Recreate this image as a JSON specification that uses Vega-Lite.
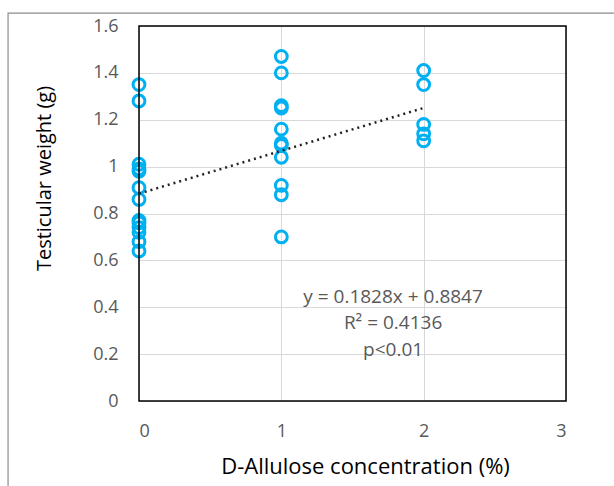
{
  "$schema": "https://vega.github.io/schema/vega-lite/v6.json",
  "width": 427,
  "height": 375,
  "autosize": {"type": "none"},
  "padding": {"left": 139, "top": 26, "right": 48, "bottom": 85},
  "background": "white",
  "config": {
    "font": "Open Sans",
    "view": {"stroke": null},
    "axis": {
      "gridColor": "#d9d9d9",
      "gridWidth": 1,
      "domain": false,
      "ticks": false,
      "labelColor": "#595959",
      "labelFontSize": 18,
      "labelFont": "Open Sans",
      "titleColor": "#000000",
      "titleFont": "Open Sans",
      "titleFontWeight": "normal"
    }
  },
  "datasets": {
    "pts": [
      {"c": 0, "w": 1.35}, {"c": 0, "w": 1.28}, {"c": 0, "w": 1.01}, {"c": 0, "w": 0.99},
      {"c": 0, "w": 0.98}, {"c": 0, "w": 0.91}, {"c": 0, "w": 0.86}, {"c": 0, "w": 0.77},
      {"c": 0, "w": 0.76}, {"c": 0, "w": 0.74}, {"c": 0, "w": 0.72}, {"c": 0, "w": 0.68},
      {"c": 0, "w": 0.64},
      {"c": 1, "w": 1.47}, {"c": 1, "w": 1.40}, {"c": 1, "w": 1.26}, {"c": 1, "w": 1.25},
      {"c": 1, "w": 1.16}, {"c": 1, "w": 1.10}, {"c": 1, "w": 1.09}, {"c": 1, "w": 1.04},
      {"c": 1, "w": 0.92}, {"c": 1, "w": 0.88}, {"c": 1, "w": 0.70},
      {"c": 2, "w": 1.41}, {"c": 2, "w": 1.35}, {"c": 2, "w": 1.18}, {"c": 2, "w": 1.14},
      {"c": 2, "w": 1.11}
    ],
    "trend": [
      {"c": 0, "w": 0.8847},
      {"c": 2, "w": 1.2503}
    ],
    "notes": [
      {"c": 1.785, "w": 0.444, "t": "y = 0.1828x + 0.8847"},
      {"c": 1.785, "w": 0.333, "t": "R² = 0.4136"},
      {"c": 1.785, "w": 0.218, "t": "p<0.01"}
    ],
    "one": [{"k": 1}]
  },
  "layer": [
    {
      "data": {"name": "pts"},
      "mark": {"type": "point", "shape": "circle", "filled": false, "stroke": "#00B0F0", "strokeWidth": 3, "size": 140, "opacity": 1},
      "encoding": {
        "x": {
          "field": "c", "type": "quantitative",
          "scale": {"domain": [0, 3], "nice": false},
          "axis": {"values": [0, 1, 2, 3], "format": "~f", "title": "D-Allulose concentration (%)", "titleFontSize": 22, "labelPadding": 21, "titlePadding": 16, "titleX": 226}
        },
        "y": {
          "field": "w", "type": "quantitative",
          "scale": {"domain": [0, 1.6], "nice": false},
          "axis": {"values": [0, 0.2, 0.4, 0.6, 0.8, 1, 1.2, 1.4, 1.6], "format": "~f", "title": "Testicular weight (g)", "titleFontSize": 20, "labelPadding": 21, "titlePadding": 38, "titleY": 152}
        }
      }
    },
    {
      "data": {"name": "one"},
      "mark": {"type": "rect", "filled": false, "stroke": "#000000", "strokeWidth": 1.5},
      "encoding": {
        "x": {"datum": 0, "type": "quantitative"},
        "x2": {"datum": 3},
        "y": {"datum": 0, "type": "quantitative"},
        "y2": {"datum": 1.6}
      }
    },
    {
      "data": {"name": "one"},
      "mark": {"type": "rect", "filled": false, "stroke": "#8c8c8c", "strokeWidth": 1.2, "clip": false},
      "encoding": {
        "x": {"datum": -0.92, "type": "quantitative"},
        "x2": {"datum": 3.6},
        "y": {"datum": 1.655, "type": "quantitative"},
        "y2": {"datum": -0.5}
      }
    },
    {
      "data": {"name": "trend"},
      "mark": {"type": "line", "stroke": "#222222", "strokeWidth": 2.5, "strokeDash": [2, 4]},
      "encoding": {
        "x": {"field": "c", "type": "quantitative"},
        "y": {"field": "w", "type": "quantitative"}
      }
    },
    {
      "data": {"name": "notes"},
      "mark": {"type": "text", "fontSize": 19, "color": "#595959", "align": "center", "baseline": "middle", "font": "Open Sans"},
      "encoding": {
        "x": {"field": "c", "type": "quantitative"},
        "y": {"field": "w", "type": "quantitative"},
        "text": {"field": "t"}
      }
    }
  ]
}
